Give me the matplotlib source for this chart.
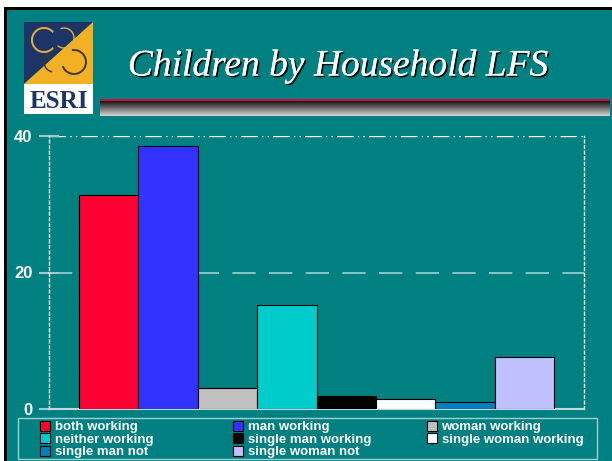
import matplotlib
matplotlib.use("Agg")
import matplotlib.pyplot as plt
import matplotlib.patheffects as pe
from matplotlib.patches import Rectangle, Polygon, Arc
import numpy as np

categories = ["both working", "man working", "woman working", "neither working",
              "single man working", "single woman working", "single man not",
              "single woman not"]
values = [31.4, 38.5, 3.1, 15.2, 1.9, 1.5, 1.0, 7.6]
colors = ["#FF0033", "#3333FF", "#C0C0C0", "#00CCCC", "#000000", "#FFFFFF",
          "#0080C0", "#C0C0FF"]
yticks = [0, 20, 40]

TEAL = "#008080"
W, H = 612, 461

fig = plt.figure(figsize=(6.12, 4.61), dpi=100, facecolor=TEAL)


def fx(px):
    return px / W


def fy(py):
    return 1 - py / H


# slide edge: white strip then black frame on top / left
fig.patches.append(Rectangle((0, fy(7)), 1, 7 / H, transform=fig.transFigure,
                             facecolor="white", edgecolor="none", zorder=0))
fig.patches.append(Rectangle((0, 0), fx(4), 1, transform=fig.transFigure,
                             facecolor="white", edgecolor="none", zorder=0))
fig.patches.append(Rectangle((fx(4), fy(10)), 1, 3 / H, transform=fig.transFigure,
                             facecolor="black", edgecolor="none", zorder=1))
fig.patches.append(Rectangle((fx(4), 0), 3 / W, fy(7), transform=fig.transFigure,
                             facecolor="black", edgecolor="none", zorder=1))

# logo
lg = fig.add_axes([fx(24), fy(114), fx(93) - fx(24), fy(22) - fy(114)])
lg.set_xlim(0, 69)
lg.set_ylim(0, 92)
lg.axis("off")
lg.add_patch(Rectangle((0, 0), 69, 30, facecolor="white", edgecolor="none"))
lg.add_patch(Polygon([(0, 30), (0, 92), (69, 92)], facecolor="#1C3566"))
lg.add_patch(Polygon([(0, 30), (69, 30), (69, 92)], facecolor="#F2B124"))
lg.add_patch(Arc((20, 74), 24, 24, theta1=40, theta2=320, color="#E0B040", lw=1.4))
lg.add_patch(Arc((40, 76), 20, 20, theta1=230, theta2=110, color="#E0B040", lw=1.0))
lg.add_patch(Arc((30, 52), 20, 20, theta1=100, theta2=260, color="#403820", lw=1.0))
lg.add_patch(Arc((50, 52), 24, 24, theta1=200, theta2=100, color="#403820", lw=1.4))
lg.text(34.5, 13, "ESRI", ha="center", va="center", fontsize=18, fontweight="bold",
        family="Liberation Serif", color="#1C3566")

# title
fig.text(fx(338), fy(66), "Children by Household LFS", ha="center", va="center",
         fontsize=27, family="Liberation Serif", style="italic", color="white",
         path_effects=[pe.withSimplePatchShadow(offset=(1.2, -1.2),
                                                shadow_rgbFace="black", alpha=0.9),
                       pe.Normal()])

# red rule and grey gradient bar
bar_ax = fig.add_axes([fx(100), fy(116), fx(610) - fx(100), fy(99) - fy(116)])
bar_ax.axis("off")
rows = [[0.80, 0.06, 0.25], [0.80, 0.06, 0.25]]
for v in np.linspace(0.1, 0.82, 15):
    rows.append([v, v, v])
bar_ax.imshow(np.array(rows).reshape(-1, 1, 3), aspect="auto", extent=(0, 1, 0, 1),
              interpolation="nearest")

# chart
ax = fig.add_axes([fx(49), fy(409), fx(584) - fx(49), fy(136) - fy(409)])
ax.set_facecolor(TEAL)
x = np.arange(len(values))
bars = ax.bar(x, values, width=1.0, color=colors, edgecolor="black", linewidth=0.8,
              zorder=3)
ax.set_xlim(-1, 8)
ax.set_ylim(0, 40)
ax.set_yticks(yticks)
ax.set_yticklabels([str(t) for t in yticks], fontsize=12, fontweight="bold",
                   color="white", family="Liberation Sans")
ax.tick_params(axis="y", length=14, color="#A0C8C8", width=1.5, direction="inout", pad=5)
ax.set_xticks([])
ax.axhline(20, color="#A0D0D0", lw=1.2, dashes=(14, 8), zorder=1)
ax.axhline(40, color="white", lw=1.0, dashes=(12, 3, 1, 3, 1, 3), zorder=1)
for s in ["left", "right"]:
    ax.spines[s].set_color("white")
    ax.spines[s].set_linestyle((0, (2, 2)))
    ax.spines[s].set_linewidth(1.0)
ax.spines["top"].set_visible(False)
ax.spines["bottom"].set_color("#C0D8D8")
ax.spines["bottom"].set_linewidth(1.5)

# legend frame
fig.patches.append(Rectangle((fx(18), fy(459)), fx(597) - fx(18), fy(418) - fy(459),
                             transform=fig.transFigure, facecolor="none",
                             edgecolor="#A0D0D0", lw=1.0, zorder=2))

# legend: three columns
col_left = [40, 233, 427]
groups = [[0, 3, 6], [1, 4, 7], [2, 5]]
for cx, grp in zip(col_left, groups):
    leg = fig.legend([bars[i] for i in grp], [categories[i] for i in grp],
                     loc="upper left", bbox_to_anchor=(fx(cx), fy(421)),
                     frameon=False, borderpad=0, labelspacing=0.0,
                     handlelength=0.75, handleheight=0.75, handletextpad=0.35,
                     borderaxespad=0,
                     prop={"family": "Liberation Sans", "weight": "bold", "size": 9.5})
    for t in leg.get_texts():
        t.set_color("white")

fig.savefig("out.png", dpi=100, facecolor=TEAL)
